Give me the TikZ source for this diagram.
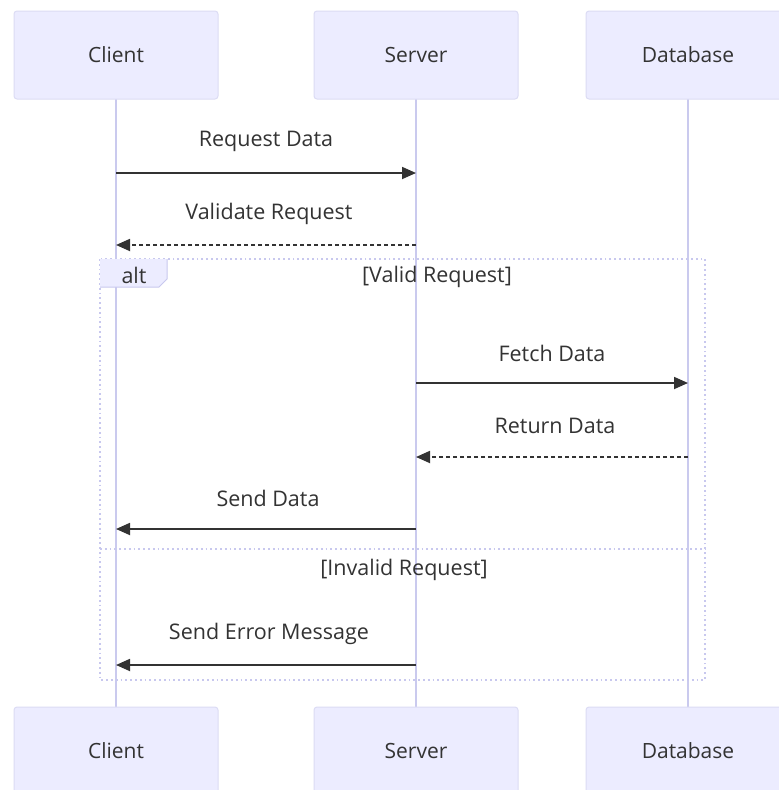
\documentclass[tikz,border=0pt]{standalone}
\usepackage{fontspec}
\setmainfont{Open Sans}
\usetikzlibrary{arrows.meta}
\definecolor{boxfill}{HTML}{ECECFF}
\definecolor{boxdraw}{HTML}{DCDCF4}
\definecolor{lifeline}{HTML}{CACAEE}
\definecolor{msg}{HTML}{333333}
\definecolor{txt}{HTML}{333333}
\definecolor{altline}{HTML}{C8C8EE}
\tikzset{
  actor/.style={draw=boxdraw, fill=boxfill, rounded corners=3pt, minimum width=204pt, minimum height=88pt, inner sep=0pt, text=txt, font=\fontsize{21}{24}\selectfont, line width=1pt},
  lbl/.style={text=txt, font=\fontsize{21.5}{24}\selectfont, inner sep=0pt},
  msgline/.style={draw=msg, line width=1.8pt, -{Triangle[length=14pt,width=12pt]}},
  msgdash/.style={msgline, dash pattern=on 4pt off 3pt},
  life/.style={draw=lifeline, line width=1.6pt},
  altbox/.style={draw=altline, line width=1.8pt, dash pattern=on 1.8pt off 3pt},
}
\begin{document}
\begin{tikzpicture}[x=1pt,y=-1pt]
\useasboundingbox[fill=white] (0,0) rectangle (779,790);
% lifelines
\coordinate (c1) at (116,99); \coordinate (c2) at (116,707);
\coordinate (s1) at (416,99); \coordinate (s2) at (416,707);
\coordinate (d1) at (688,99); \coordinate (d2) at (688,707);
\draw[life] (c1) -- (c2);
\draw[life] (s1) -- (s2);
\draw[life] (d1) -- (d2);
% actors
\node[actor] (ct) at (116,55) {Client};
\node[actor] (st) at (416,55) {Server};
\node[actor] (dt) at (688,55) {Database};
\node[actor] (cb) at (116,751) {Client};
\node[actor] (sb) at (416,751) {Server};
\node[actor] (db) at (688,751) {Database};
% alt frame
\draw[altbox] (100,259) rectangle (705,680);
\draw[altbox] (100,549) -- (705,549);
\fill[boxfill] (100,259) -- (167,259) -- (167,279) -- (159,287) -- (100,287) -- cycle;
\draw[altline, line width=1pt] (167,259) -- (167,279) -- (159,287) -- (100,287);
\node[lbl] (alt) at (134,275) {alt};
\node[lbl] (v) at (437,277) {[Valid Request]};
\node[lbl] (iv) at (404,570) {[Invalid Request]};
% messages
\coordinate (m1a) at (116,173); \coordinate (m1b) at (416,173);
\draw[msgline] (m1a) -- (m1b);
\node[lbl] (l1) at (266,141) {Request Data};
\coordinate (m2a) at (416,245); \coordinate (m2b) at (116,245);
\draw[msgdash] (m2a) -- (m2b);
\node[lbl] (l2) at (269,214) {Validate Request};
\coordinate (m3a) at (416,383); \coordinate (m3b) at (688,383);
\draw[msgline] (m3a) -- (m3b);
\node[lbl] (l3) at (552,353) {Fetch Data};
\coordinate (m4a) at (688,457); \coordinate (m4b) at (416,457);
\draw[msgdash] (m4a) -- (m4b);
\node[lbl] (l4) at (555,426) {Return Data};
\coordinate (m5a) at (416,529); \coordinate (m5b) at (116,529);
\draw[msgline] (m5a) -- (m5b);
\node[lbl] (l5) at (268,498) {Send Data};
\coordinate (m6a) at (416,665); \coordinate (m6b) at (116,665);
\draw[msgline] (m6a) -- (m6b);
\node[lbl] (l6) at (269,634) {Send Error Message};
\end{tikzpicture}
\end{document}
